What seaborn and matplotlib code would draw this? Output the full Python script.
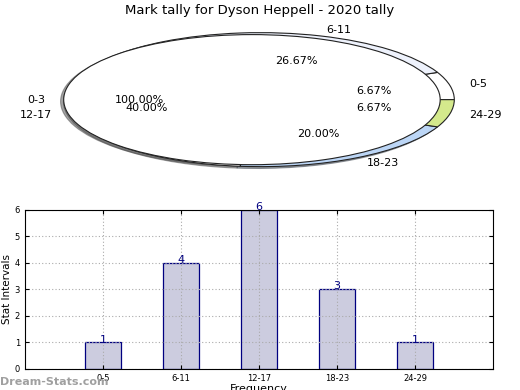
import matplotlib
matplotlib.use("Agg")
import matplotlib.pyplot as plt
import seaborn as sns
import pandas as pd

# data
intervals = ["0-5", "6-11", "12-17", "18-23", "24-29"]
counts = [1, 4, 6, 3, 1]
slice_colors = ["#ffffff", "#eef2fc", "#ffffff", "#bcd6f6", "#d4e98c"]
cover_label = ["0-3"]
cover_value = [1]

fig = plt.figure(figsize=(5.2, 3.9), dpi=100)
fig.suptitle("Mark tally for Dyson Heppell - 2020 tally", fontsize=9.5, y=0.99)

# pie (stretched, with a white cover pie on top)
ax1 = fig.add_axes([0.032, 0.536, 0.905, 0.417])
edge = dict(edgecolor="#222222", linewidth=0.8)
shadow = dict(ox=-0.012, oy=-0.02)
ax1.pie(counts, labels=intervals, colors=slice_colors, autopct="%.2f%%",
        startangle=0, radius=1.03, center=(0.045, 0), shadow=shadow,
        wedgeprops=edge, textprops=dict(fontsize=8))
ax1.pie(cover_value, labels=cover_label, colors=["white"], autopct="%.2f%%",
        startangle=0, radius=1.0, center=(0, 0), shadow=shadow,
        wedgeprops=edge, textprops=dict(fontsize=8))
ax1.set_aspect("auto")
ax1.set_xlim(-1.25, 1.25)
ax1.set_ylim(-1.25, 1.25)

# bars
df = pd.DataFrame({"interval": intervals, "count": counts})
ax2 = fig.add_axes([0.048, 0.054, 0.9, 0.408])
sns.barplot(data=df, x="interval", y="count", ax=ax2, color="#ccccdf",
            saturation=1, width=0.46, edgecolor="#000080", linewidth=0.9)
for c in ax2.containers:
    ax2.bar_label(c, color="#000080", fontsize=8, padding=-1.5)
ax2.set_xlim(-1, 5)
ax2.set_ylim(0, 6)
ax2.grid(True, color="#aaaaaa", linestyle=(0, (1, 2)), linewidth=0.8)
for b in ax2.patches:
    b.set_zorder(1)
ax2.tick_params(labelsize=6, direction="in", top=True, right=True, length=3)
ax2.set_ylabel("Stat Intervals", fontsize=7.5, labelpad=2)
ax2.set_xlabel("Frequency", fontsize=8, labelpad=1)

fig.text(0.0, 0.012, "Dream-Stats.com", color="#a0a0a0", fontsize=8,
         fontweight="bold")

fig.savefig("out.png", dpi=100)
